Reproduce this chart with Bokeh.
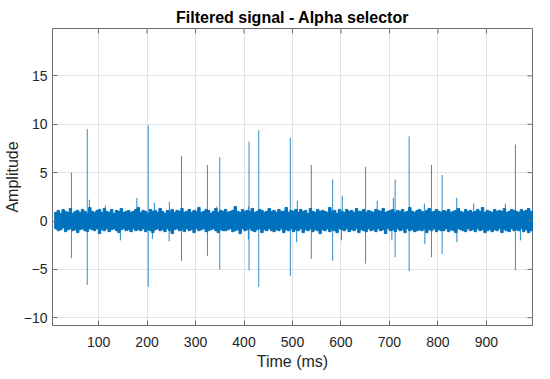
from bokeh.plotting import figure
from bokeh.models import FixedTicker
from bokeh.embed import file_html
from bokeh.resources import INLINE
import numpy as np

# ---- data ----
title = "Filtered signal - Alpha selector"
x_ticks = [100, 200, 300, 400, 500, 600, 700, 800, 900]
y_ticks = [-10, -5, 0, 5, 10, 15]
x_lim = (5, 995)
y_lim = (-10.8, 19.9)

# large spikes: time (ms), positive peak, negative peak
spike_t  = [44, 76.7, 202.4, 271, 324.5, 350, 410.4, 430.4, 495.5, 538.8, 582.8, 650.7, 711.7, 740.6, 786.6, 808.6, 959.7]
spike_hi = [5.0, 9.5, 9.9, 6.7, 5.8, 6.6, 8.2, 9.4, 8.6, 5.8, 4.3, 5.6, 4.3, 8.75, 5.8, 4.75, 7.9]
spike_lo = [-3.85, -6.6, -6.8, -4.1, -3.6, -5.0, -5.1, -6.8, -5.7, -3.9, -4.1, -4.4, -3.75, -5.2, -3.75, -3.4, -5.1]

# smaller excursions out of the noise band
up_t = [81, 114, 179, 215, 246, 344, 409, 510, 602.6, 674.7, 708, 772, 838.8, 873.8, 939]
up_v = [2.2, 1.6, 2.4, 1.9, 2.0, 1.5, 1.5, 2.1, 2.6, 2.1, 2.4, 1.8, 2.4, 1.8, 1.8]
dn_t = [145, 211, 245.6, 409, 508.6, 601, 705, 773, 839, 970]
dn_v = [-2.0, -1.85, -2.1, -1.9, -2.2, -2.0, -2.0, -2.4, -2.2, -2.0]

# noise band envelope, one pair per 5 ms bin starting at 12 ms
noise_hi = [
    0.9, 1.1, 0.8, 1.2, 1.0, 0.9, 1.3, 0.8, 1.0, 1.1,
    0.9, 1.2, 1.0, 0.8, 1.4, 1.0, 0.9, 1.1, 1.2, 0.9,
    1.3, 1.0, 0.9, 1.2, 0.8, 1.1, 1.0, 1.3, 0.9, 1.0,
    1.1, 0.9, 1.0, 1.2, 1.4, 0.9, 1.1, 1.0, 0.8, 1.2,
    1.0, 1.1, 0.9, 1.3, 1.0, 0.8, 1.1, 1.0, 1.2, 0.9,
    1.1, 1.0, 1.3, 0.9, 1.0, 1.2, 0.9, 1.1, 1.0, 1.4,
    0.9, 1.0, 1.2, 1.1, 0.8, 1.0, 1.3, 0.9, 1.1, 1.0,
    1.2, 0.9, 1.0, 1.1, 1.5, 1.0, 0.9, 1.2, 1.0, 1.1,
    1.0, 1.3, 0.9, 1.0, 1.2, 1.1, 0.9, 1.0, 1.3, 1.0,
    1.1, 0.9, 1.2, 1.0, 1.0, 1.4, 0.9, 1.1, 1.0, 1.2,
    0.9, 1.2, 1.0, 1.1, 0.8, 1.3, 1.0, 0.9, 1.2, 1.0,
    1.1, 1.0, 0.9, 1.4, 1.0, 1.1, 0.8, 1.2, 1.0, 0.9,
    1.2, 1.0, 1.1, 0.9, 1.3, 1.0, 1.0, 1.2, 0.9, 1.1,
    1.0, 0.9, 1.2, 1.1, 1.0, 1.3, 0.9, 1.0, 1.1, 1.2,
    0.9, 1.1, 1.0, 1.2, 0.9, 1.0, 1.4, 1.0, 0.9, 1.1,
    1.2, 1.0, 0.9, 1.1, 1.3, 0.9, 1.0, 1.2, 1.0, 0.9,
    1.1, 1.0, 1.2, 0.9, 1.0, 1.1, 1.3, 1.0, 0.9, 1.2,
    1.0, 1.1, 0.9, 1.0, 1.2, 1.0, 1.4, 0.9, 1.1, 1.0,
    0.9, 1.2, 1.0, 1.1, 1.0, 1.3, 0.9, 1.0, 1.2, 1.1,
    1.0, 0.9, 1.2, 1.0, 1.1, 1.3, 1.0, 0.9, 1.2, 1.0,
]
noise_lo = [
    -0.8, -1.0, -0.9, -0.7, -1.1, -0.9, -0.8, -1.0, -0.9, -1.2,
    -0.9, -0.8, -1.0, -1.1, -0.8, -0.9, -1.0, -0.8, -1.3, -0.9,
    -1.0, -0.8, -1.1, -0.9, -0.8, -1.0, -1.2, -0.9, -0.8, -1.0,
    -0.9, -1.1, -0.8, -1.0, -0.9, -1.0, -0.8, -1.1, -0.9, -1.0,
    -1.2, -0.9, -0.8, -1.0, -0.9, -1.1, -0.8, -1.0, -1.3, -0.9,
    -0.8, -1.0, -0.9, -1.1, -0.8, -1.0, -0.9, -1.2, -0.8, -1.0,
    -0.9, -0.8, -1.1, -1.0, -0.9, -0.8, -1.0, -1.2, -0.9, -1.0,
    -1.0, -0.9, -0.8, -1.1, -1.0, -0.9, -1.3, -0.8, -1.0, -0.9,
    -0.8, -1.0, -1.1, -0.9, -0.8, -1.2, -0.9, -1.0, -0.8, -1.0,
    -1.1, -0.9, -1.0, -0.8, -1.2, -0.9, -1.0, -0.8, -1.1, -0.9,
    -1.0, -0.8, -1.2, -0.9, -1.0, -0.8, -1.1, -0.9, -1.0, -1.3,
    -0.9, -1.0, -0.8, -1.1, -0.9, -1.0, -1.2, -0.8, -0.9, -1.0,
    -0.8, -1.1, -0.9, -1.0, -0.8, -1.2, -0.9, -1.0, -1.1, -0.8,
    -1.0, -0.9, -1.1, -0.8, -1.0, -0.9, -1.3, -0.8, -1.0, -0.9,
    -1.1, -0.8, -1.0, -0.9, -1.2, -0.8, -1.0, -0.9, -1.1, -1.0,
    -0.9, -1.0, -0.8, -1.2, -0.9, -1.0, -0.8, -1.1, -0.9, -1.0,
    -1.0, -0.8, -1.1, -0.9, -1.0, -1.2, -0.8, -0.9, -1.0, -1.1,
    -0.8, -1.0, -0.9, -1.1, -0.8, -1.0, -0.9, -1.2, -1.0, -0.9,
    -1.1, -0.9, -1.0, -0.8, -1.2, -0.9, -1.0, -1.1, -0.8, -1.0,
    -0.9, -1.0, -0.8, -1.1, -0.9, -1.2, -1.0, -0.8, -1.1, -0.9,
]
noise_start = 12
noise_step = 5

# ---- build the figure ----
BLUE = "#0072BD"
AX = "#6e6e6e"
TXT = "#262626"
FONT = "Liberation Sans"

p = figure(frame_width=480, frame_height=297,
           x_range=x_lim, y_range=y_lim,
           output_backend="svg", toolbar_location=None,
           min_border_left=46, min_border_right=8,
           min_border_top=28, min_border_bottom=0,
           background_fill_color="white", border_fill_color="white")

p.title.text = title
p.title.align = "center"
p.title.offset = 18
p.title.standoff = 6
p.title.text_font = FONT
p.title.text_font_size = "16px"
p.title.text_font_style = "bold"
p.title.text_color = "#000000"

p.xgrid.ticker = FixedTicker(ticks=x_ticks)
p.ygrid.ticker = FixedTicker(ticks=y_ticks)
p.grid.grid_line_color = "#e3e3e3"
p.grid.grid_line_width = 1
p.outline_line_color = AX

# noise band: one bar per bin spanning the envelope
n = len(noise_hi)
t_bins = noise_start + noise_step * np.arange(n)
p.vbar(x=t_bins, width=noise_step, bottom=noise_lo, top=noise_hi,
       fill_color=BLUE, line_color=BLUE, line_width=1)

# excursions
p.segment(x0=up_t, y0=[0] * len(up_t), x1=up_t, y1=up_v, line_color=BLUE, line_width=1, line_alpha=0.85)
p.segment(x0=dn_t, y0=[0] * len(dn_t), x1=dn_t, y1=dn_v, line_color=BLUE, line_width=1, line_alpha=0.85)

# large spikes
p.segment(x0=spike_t, y0=spike_lo, x1=spike_t, y1=spike_hi, line_color=BLUE, line_width=1, line_alpha=0.8)

# box ticks on top and right edges (inward, 5 px)
p.ray(x=x_ticks, y=[y_lim[1]] * len(x_ticks), length=5, length_units="screen",
      angle=-np.pi / 2, line_color=AX, line_width=1)
p.ray(x=[x_lim[1]] * len(y_ticks), y=y_ticks, length=5, length_units="screen",
      angle=np.pi, line_color=AX, line_width=1)

# axes styling
for ax in (p.xaxis[0], p.yaxis[0]):
    ax.axis_line_color = AX
    ax.axis_line_width = 1
    ax.major_tick_line_color = AX
    ax.major_tick_in = 5
    ax.major_tick_out = 0
    ax.minor_tick_line_color = None
    ax.major_label_text_font = FONT
    ax.major_label_text_font_size = "14px"
    ax.major_label_text_color = TXT
    ax.axis_label_text_font = FONT
    ax.axis_label_text_font_size = "16px"
    ax.axis_label_text_font_style = "normal"
    ax.axis_label_text_color = TXT

xax = p.xaxis[0]
yax = p.yaxis[0]
xax.ticker = FixedTicker(ticks=x_ticks)
yax.ticker = FixedTicker(ticks=y_ticks)
xax.axis_label = "Time (ms)"
yax.axis_label = "Amplitude"
xax.major_label_standoff = 11
yax.major_label_standoff = 5
xax.axis_label_standoff = 3
yax.axis_label_standoff = 0

open("out.html", "w").write(file_html(p, INLINE))
